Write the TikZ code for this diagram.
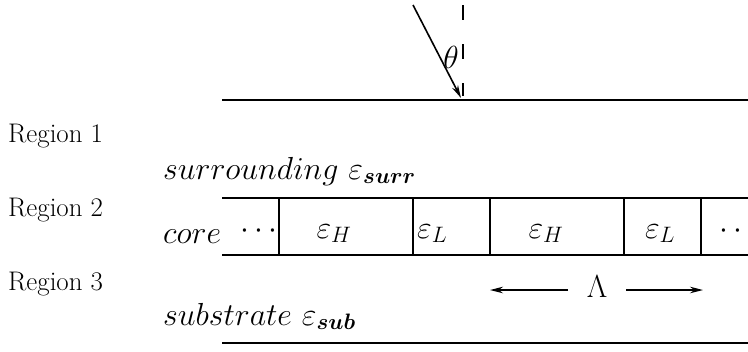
\RequirePackage{fix-cm}
\documentclass[tikz,border=0pt]{standalone}
\usepackage{bm}
\usetikzlibrary{arrows.meta}
\begin{document}
\begin{tikzpicture}[x=1bp,y=-1bp,
  rule/.style={line width=1.9bp},
  reglabel/.style={inner sep=0pt, anchor=base west, font=\fontsize{27}{32}\selectfont},
  mth/.style={inner sep=0pt, font=\fontsize{32}{38}\selectfont},
  tip/.style={line width=1.6bp,-{Stealth[length=13bp,width=6.5bp]}}]
\useasboundingbox (0,0) rectangle (748,351);
\begin{scope}
\clip (0,0) rectangle (748,351);
% horizontal interfaces
\coordinate (t0) at (222,100); \coordinate (t1) at (748,100);
\coordinate (b0) at (222,198); \coordinate (b1) at (748,198);
\coordinate (c0) at (222,255); \coordinate (c1) at (748,255);
\coordinate (s0) at (222,343); \coordinate (s1) at (748,343);
\draw[rule] (t0) -- (t1);
\draw[rule] (b0) -- (b1);
\draw[rule] (c0) -- (c1);
\draw[rule] (s0) -- (s1);
% layer dividers
\foreach \x in {279,413,490,624,701}
  \draw[rule] (\x,198) -- (\x,255);
% incident ray and normal
\coordinate (r0) at (413,5); \coordinate (r1) at (461,98);
\draw[tip] (r0) -- (r1);
\coordinate (n0) at (463,5); \coordinate (n1) at (463,96);
\draw[rule, dash pattern=on 15bp off 24bp] (n0) -- (n1);
\node[mth] (theta) at (451,57) {$\theta$};
% labels
\node[reglabel] (reg1) at (8,142) {Region 1};
\node[reglabel] (reg2) at (8,216) {Region 2};
\node[reglabel] (reg3) at (8,290) {Region 3};
\node[mth, anchor=base west] (surr) at (163,179) {$surrounding\hspace{10bp}\varepsilon_{\bm{surr}}$};
\node[mth, anchor=base west] (core) at (163,243) {$core$};
\node[mth, anchor=base west] (subs) at (163,325) {$substrate\hspace{10bp}\varepsilon_{\bm{sub}}$};
% layer contents
\node[mth, anchor=base east] (dl) at (278,238) {$\cdots$};
\node[mth, anchor=base] (h1) at (334,238) {$\varepsilon_H$};
\node[mth, anchor=base west] (l1) at (417,238) {$\varepsilon_L$};
\node[mth, anchor=base] (h2) at (546,238) {$\varepsilon_H$};
\node[mth, anchor=base] (l2) at (660,238) {$\varepsilon_L$};
\node[mth, anchor=base west] (dr) at (719,238) {$\cdots$};
% period
\node[mth, anchor=base] (lam) at (597,297) {$\Lambda$};
\coordinate (la0) at (568,290); \coordinate (la1) at (490,290);
\coordinate (lb0) at (626,290); \coordinate (lb1) at (703,290);
\draw[tip] (la0) -- (la1);
\draw[tip] (lb0) -- (lb1);
\end{scope}
\end{tikzpicture}
\end{document}
